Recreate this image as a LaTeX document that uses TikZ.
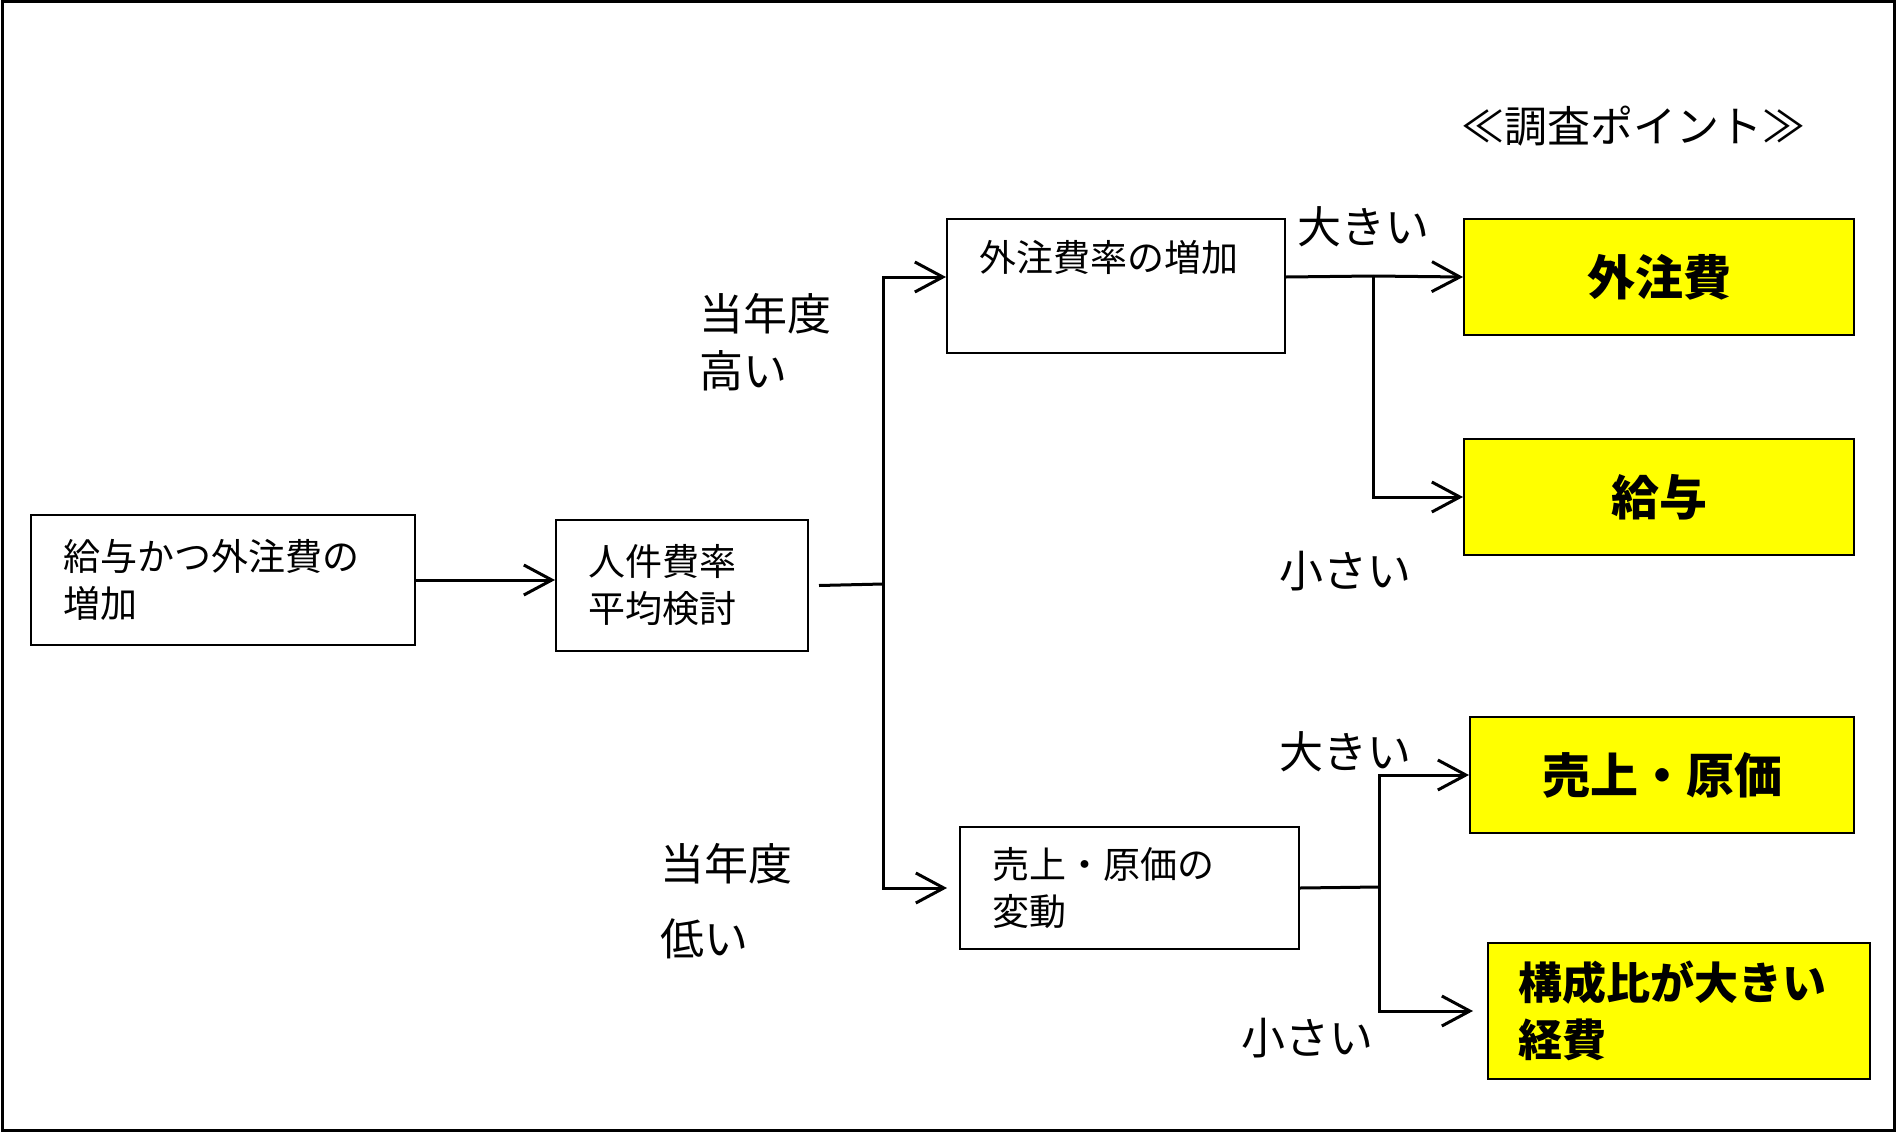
\documentclass[tikz,border=0pt]{standalone}
\usepackage
{
  fontspec,
  tikz,
}
\setmainfont{Noto Sans CJK JP}
\usetikzlibrary{positioning, arrows.meta}
\definecolor{hiyellow}{RGB}{255,255,0}

\begin{document}
\begin{tikzpicture}[x=1pt, y=-1pt,
  box/.style={draw, line width=2pt, anchor=north west, inner xsep=32pt, inner ysep=0pt,
    align=left, font=\fontsize{37}{47}\selectfont},
  hit/.style={box, fill=hiyellow, align=center, font=\fontsize{48}{58}\bfseries},
  lbl/.style={inner sep=0pt, align=left, font=\fontsize{44}{57}\selectfont},
  conn/.style={line width=3pt},
  arr/.style={conn, -{Straight Barb[length=28pt, width=30pt]}},
]
\useasboundingbox (0,0) rectangle (1897,1132);
\draw [line width=3pt] (2,2) rectangle (1894,1130);
\node[box, minimum width=384pt, minimum height=130pt, text width=320pt] (A) at (30,514)
  {給与かつ外注費の\\増加};
\node[box, minimum width=252pt, minimum height=131pt, text width=188pt] (B) at (555,519)
  {人件費率\\平均検討};
\node[box, minimum width=338pt, minimum height=134pt, text width=274pt] (C) at (946,218)
  {外注費率の増加\\\strut};
\node[box, minimum width=339pt, minimum height=122pt, text width=275pt] (D) at (959,826)
  {売上・原価の\\変動};
\node[hit, minimum width=390pt, minimum height=116pt] (P1) at (1463,218) {外注費};
\node[hit, minimum width=390pt, minimum height=116pt] (P2) at (1463,438) {給与};
\node[hit, minimum width=384pt, minimum height=116pt] (P3) at (1469,716) {売上・原価};
\node[hit, minimum width=382pt, minimum height=136pt, text width=322pt, inner xsep=30pt,
  align=left, font=\fontsize{44}{57}\bfseries] (P4) at (1487,942) {構成比が大きい\\経費};
\node[lbl, font=\fontsize{43}{52}\selectfont] (title) at (1633,126) {≪調査ポイント≫};
\node[lbl, anchor=west] (hi) at (699,342) {当年度\\高い};
\node[lbl, anchor=west] (lo) at (660,901) {当年度\\[18pt]低い};
\node[lbl] (cbig) at (1363,227) {大きい};
\node[lbl] (csmall) at (1345,571) {小さい};
\node[lbl] (dbig) at (1345,752) {大きい};
\node[lbl] (dsmall) at (1307,1038) {小さい};
\coordinate (fork) at (883,584);
\coordinate (cfork) at (1373,276);
\coordinate (dfork) at (1379,887);
\draw [arr] (A.east) -- (A.east -| B.west);
\draw [conn] ([xshift=10pt]B.east) -- (fork);
\draw [arr] (fork) |- ([yshift=9pt]C.west);
\draw [arr, shorten >=12pt] (fork) |- (D.west);
\draw [conn] ([yshift=9pt]C.east) -- (cfork);
\draw [arr] (cfork) -- (P1.west);
\draw [arr] (cfork) |- (P2.west);
\draw [conn] (D.east) -- (dfork);
\draw [arr] (dfork) |- (P3.west);
\draw [arr, shorten >=14pt] (dfork) |- (P4.west);
\end{tikzpicture}
\end{document}
